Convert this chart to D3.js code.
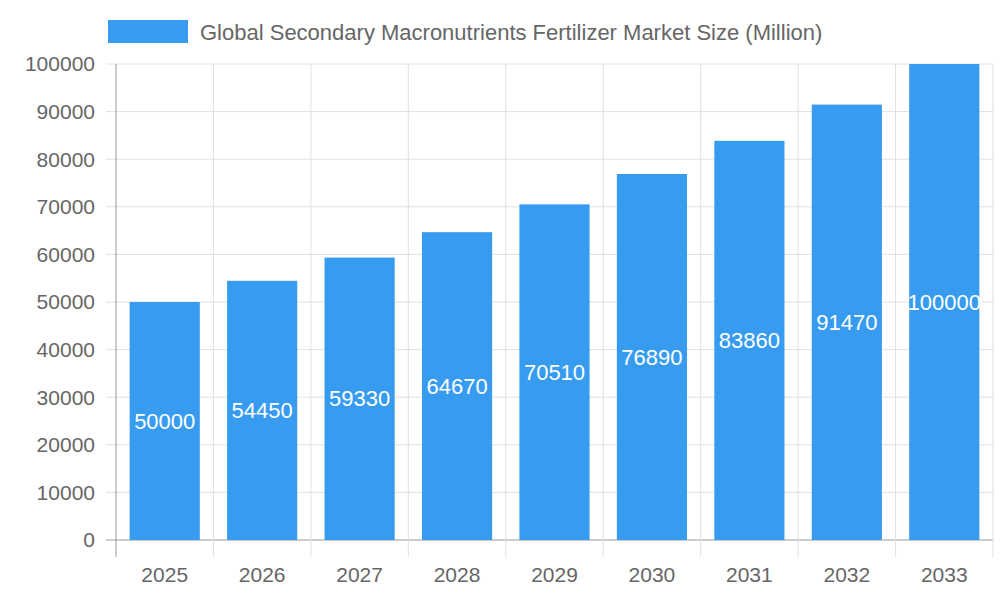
<!DOCTYPE html>
<html><head><meta charset="utf-8">
<script src="https://cdnjs.cloudflare.com/ajax/libs/d3/7.8.5/d3.min.js"></script>
<style>body{margin:0;background:#fff;font-family:"Liberation Sans",Arial,sans-serif}</style>
</head><body><div class="chart"></div>
<script>
const years = ["2025","2026","2027","2028","2029","2030","2031","2032","2033"];
const values = [50000,54450,59330,64670,70510,76890,83860,91470,100000];
const yTicks = d3.range(0,100001,10000);
const title = "Global Secondary Macronutrients Fertilizer Market Size (Million)";

const margin = {top:64, right:7, bottom:60, left:116},
  width = 1000 - margin.left - margin.right,
  height = 600 - margin.top - margin.bottom;

const svg = d3.select(".chart").append("svg").attr("width",1000).attr("height",600);
const g = svg.append("g").attr("transform","translate("+margin.left+","+margin.top+")");

const x = d3.scaleBand().domain(years).range([0,width]);
const y = d3.scaleLinear().domain([0,100000]).range([height,0]);

// grid
g.selectAll(".hg").data(yTicks).enter().append("line")
  .attr("x1",-10).attr("x2",width).attr("y1",d=>y(d)).attr("y2",d=>y(d))
  .attr("stroke",d=>d===0?"#999":"#e0e0e0");
const vb = years.map(d=>x(d)).concat([width]);
g.selectAll(".vg").data(vb).enter().append("line")
  .attr("x1",d=>d).attr("x2",d=>d).attr("y1",0).attr("y2",height+17)
  .attr("stroke",(d,i)=>i===0?"#999":"#e0e0e0");

g.selectAll(".yl").data(yTicks).enter().append("text")
  .attr("x",-21).attr("y",d=>y(d)).attr("dy","0.35em").attr("text-anchor","end")
  .attr("fill","#666").attr("font-size",21).text(d=>d);

g.selectAll(".xl").data(years).enter().append("text")
  .attr("x",d=>x(d)+x.bandwidth()/2).attr("y",height+42).attr("text-anchor","middle")
  .attr("fill","#666").attr("font-size",21).text(d=>d);

const bw = x.bandwidth()*0.72;
g.selectAll(".bar").data(values).enter().append("rect")
  .attr("x",(d,i)=>x(years[i])+(x.bandwidth()-bw)/2).attr("width",bw)
  .attr("y",d=>y(d)).attr("height",d=>height-y(d)).attr("fill","#379cf0");

g.selectAll(".vl").data(values).enter().append("text")
  .attr("x",(d,i)=>x(years[i])+x.bandwidth()/2).attr("y",d=>(y(d)+height)/2)
  .attr("dy","0.35em").attr("text-anchor","middle").attr("fill","#fff")
  .attr("font-size",22).text(d=>d);

svg.append("rect").attr("x",108).attr("y",20).attr("width",80).attr("height",23).attr("fill","#379cf0");
svg.append("text").attr("x",200).attr("y",32).attr("dy","0.35em").attr("fill","#666")
  .attr("font-size",22).text(title);
</script></body></html>
